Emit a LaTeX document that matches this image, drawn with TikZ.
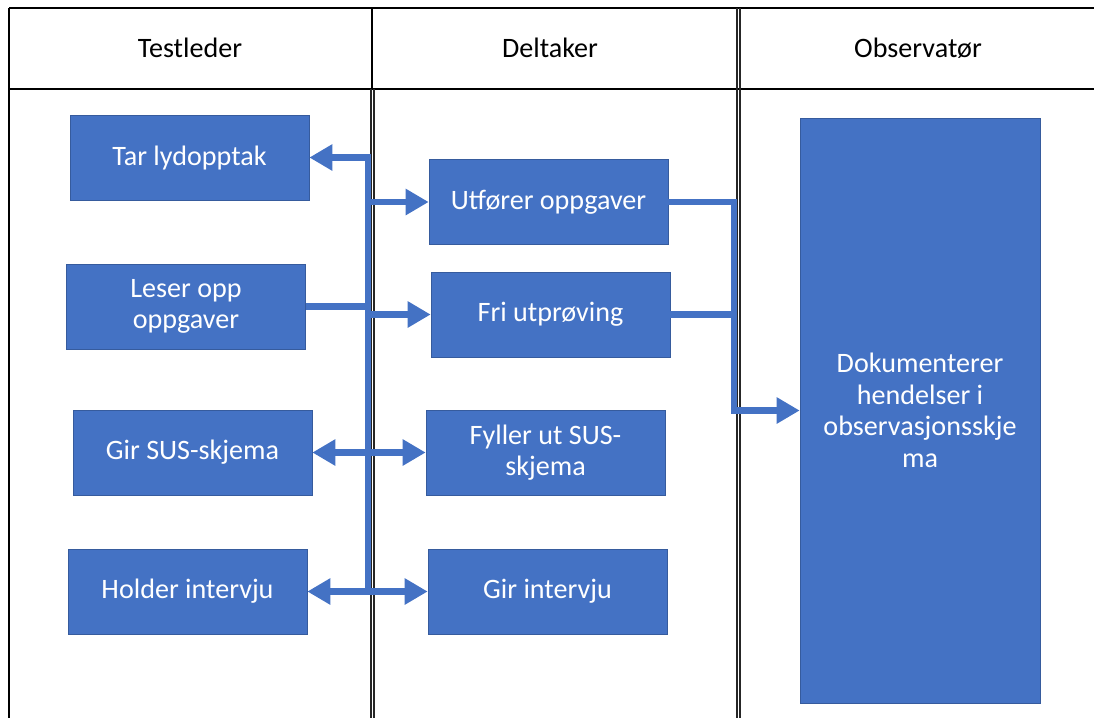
\documentclass[tikz,border=0pt]{standalone}
\usepackage{fontspec}
\setmainfont{Carlito}
\usetikzlibrary{arrows.meta}
\definecolor{boxblue}{HTML}{4472C4}
\tikzset{
  box/.style={draw=boxblue!80!black, fill=boxblue, text=white, minimum width=4.78cm,
    minimum height=1.7cm, align=center, inner sep=2pt,
    font=\fontsize{16}{18}\selectfont},
  head/.style={font=\fontsize{16}{18}\selectfont},
  conn/.style={draw=boxblue, line width=3.6pt, line join=miter},
  tip/.style={-{Triangle[length=0.46cm,width=0.5cm]}},
  tips/.style={{Triangle[length=0.46cm,width=0.5cm]}-{Triangle[length=0.46cm,width=0.5cm]}}
}
\begin{document}
\begin{tikzpicture}[x=0.02cm, y=-0.02cm]
  \useasboundingbox (0,0) rectangle (1094,718);

  % Table
  \draw[line width=0.6pt] (9,8) -- (1094,8);
  \draw[line width=0.6pt] (9,89) -- (1094,89);
  \draw[line width=0.6pt] (9,8) -- (9,718);
  \draw[line width=1.6pt] (372,8) -- (372,89);
  \draw[line width=0.6pt, black!85] (371,89) -- (371,718) (374,89) -- (374,718);
  \draw[line width=0.6pt, black!85] (737,8) -- (737,718) (740,8) -- (740,718);

  \node[head] (testleder) at (190,48) {Testleder};
  \node[head] (deltaker) at (550,48) {Deltaker};
  \node[head] (observator) at (918,48) {Observatør};

  % Testleder
  \node[box] (tar) at (189.5,157.5) {Tar lydopptak};
  \node[box] (les) at (186,306.5) {Leser opp\\oppgaver};
  \node[box] (gsus) at (192.5,452.5) {Gir SUS-skjema};
  \node[box] (hold) at (187.5,591.5) {Holder intervju};

  % Deltaker
  \node[box] (utf) at (548.5,202) {Utfører oppgaver};
  \node[box] (fri) at (550.5,314.5) {Fri utprøving};
  \node[box] (fsus) at (545.5,452.5) {Fyller ut SUS-\\skjema};
  \node[box] (giri) at (547.5,591.5) {Gir intervju};

  % Observatør
  \node[box, minimum width=4.8cm, minimum height=11.7cm] (dok) at (920,410.5)
    {Dokumenterer\\hendelser i\\observasjonsskje\\ma};

  % Connectors
  \coordinate (jx) at (368,0);
  \coordinate (kx) at (734,0);
  \draw[conn, tip] (hold.east -| jx) -- (tar.east -| jx) -- (tar.east);
  \draw[conn, tip] (utf.west -| jx) -- (utf.west);
  \draw[conn] (les.east) -- (les.east -| jx);
  \draw[conn, tip] (fri.west -| jx) -- (fri.west);
  \draw[conn, tips] (gsus.east) -- (fsus.west);
  \draw[conn, tips] (hold.east) -- (giri.west);
  \draw[conn, tip] (utf.east) -- (utf.east -| kx) -- (dok.west -| kx) -- (dok.west);
  \draw[conn] (fri.east) -- (fri.east -| kx);
\end{tikzpicture}
\end{document}
